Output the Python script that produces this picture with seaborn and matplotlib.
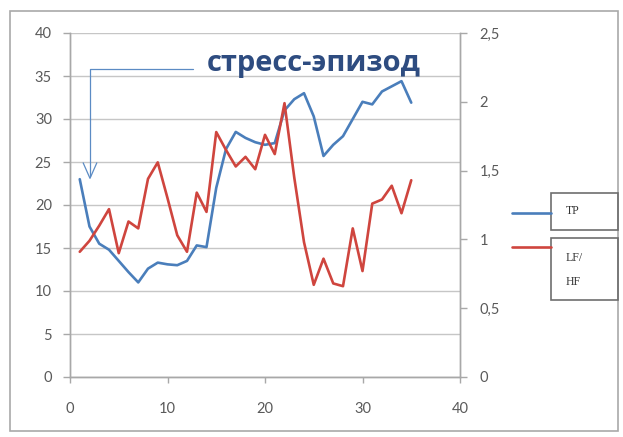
import matplotlib
matplotlib.use("Agg")
import matplotlib.pyplot as plt
from matplotlib.lines import Line2D
from matplotlib.patches import Rectangle
import seaborn as sns
import pandas as pd

# Session index (minutes) and the two measured series
t = list(range(1, 36))
tp = [23.0, 17.5, 15.5, 14.8, 13.5, 12.2, 11.0, 12.6, 13.3, 13.1, 13.0, 13.5,
      15.3, 15.1, 22.0, 26.5, 28.5, 27.8, 27.3, 27.0, 27.2, 31.0, 32.3, 33.0,
      30.3, 25.7, 27.0, 28.0, 30.0, 32.0, 31.7, 33.2, 33.8, 34.4, 31.9]
lf_hf = [0.91, 0.99, 1.10, 1.22, 0.90, 1.13, 1.08, 1.44, 1.56, 1.30, 1.03, 0.91,
         1.34, 1.20, 1.78, 1.65, 1.53, 1.60, 1.51, 1.76, 1.62, 1.99, 1.45, 0.98,
         0.67, 0.86, 0.68, 0.66, 1.08, 0.77, 1.26, 1.29, 1.39, 1.19, 1.43]

left_ticks = [0, 5, 10, 15, 20, 25, 30, 35, 40]
right_ticks = [0, 0.5, 1, 1.5, 2, 2.5]
right_labels = ["0", "0,5", "1", "1,5", "2", "2,5"]
x_ticks = [0, 10, 20, 30, 40]
series_names = ["TP", "LF/\nHF"]
note = "стресс-эпизод"

df = pd.DataFrame({"t": t, "tp": tp, "lf_hf": lf_hf})

sns.set_theme(style="white")
plt.rcParams["font.family"] = ["Lato", "DejaVu Sans"]

W, H = 623, 437
fig = plt.figure(figsize=(W / 100, H / 100), dpi=100)
fig.patch.set_facecolor("white")

def fx(px):
    return px / W

def fy(py):
    return 1 - py / H

ax = fig.add_axes([fx(70), fy(377), fx(460) - fx(70), fy(33) - fy(377)])
ax2 = ax.twinx()

blue = "#4A7EBB"
red = "#CF453E"
grid_c = "#C6C6C6"
spine_c = "#A8A8A8"
tick_c = "#5A5A5A"

sns.lineplot(data=df, x="t", y="tp", ax=ax, color=blue, linewidth=1.9, zorder=3)
sns.lineplot(data=df, x="t", y="lf_hf", ax=ax2, color=red, linewidth=1.9, zorder=3)

ax.set_xlim(0, 40)
ax.set_ylim(0, 40)
ax2.set_ylim(0, 2.5)
ax.set_xticks(x_ticks)
ax.set_yticks(left_ticks)
ax2.set_yticks(right_ticks)
ax2.set_yticklabels(right_labels)
ax.set_xlabel("")
ax.set_ylabel("")
ax2.set_ylabel("")

ax.yaxis.grid(True, color=grid_c, linewidth=1.0)
ax.set_axisbelow(True)

for a in (ax, ax2):
    a.spines["top"].set_visible(False)
    for s in ("left", "right", "bottom"):
        a.spines[s].set_color(spine_c)
        a.spines[s].set_linewidth(1.0)

ax.tick_params(axis="y", which="both", left=True, length=5, width=1, color=spine_c,
               labelcolor=tick_c, labelsize=10.5, pad=8)
ax.tick_params(axis="x", bottom=True, length=4, width=1, color=spine_c,
               labelcolor=tick_c, labelsize=10.5, pad=14)
ax2.tick_params(axis="y", right=True, length=5, width=1, color=spine_c,
                labelcolor=tick_c, labelsize=10.5, pad=9)

# Callout arrow pointing at the start of the episode
ax.plot([12.6, 2.05, 2.05], [35.8, 35.8, 23.4], color="#5B8BC4", linewidth=0.9,
        zorder=4, clip_on=False)
ax.plot([1.35, 2.05, 2.75], [24.9, 23.1, 24.9], color="#5B8BC4", linewidth=0.9,
        zorder=4, clip_on=False)
ax.text(25.0, 36.5, note, ha="center", va="center", fontsize=21,
        fontweight="bold", color="#2E4C80", family=["Open Sans", "DejaVu Sans"],
        zorder=5)

# Outer chart frame
fig.add_artist(Rectangle((fx(10), fy(431)), fx(618) - fx(10), fy(11) - fy(431),
                         transform=fig.transFigure, fill=False,
                         edgecolor="#A9A9A9", linewidth=1.2))

# Legend drawn as Excel-style boxed entries
box_c = "#6E6E6E"
fig.add_artist(Line2D([fx(512), fx(551)], [fy(213), fy(213)], color=blue,
                      linewidth=1.9, transform=fig.transFigure))
fig.add_artist(Line2D([fx(512), fx(551)], [fy(247), fy(247)], color=red,
                      linewidth=1.9, transform=fig.transFigure))
fig.add_artist(Rectangle((fx(551), fy(230)), fx(618) - fx(551), fy(193) - fy(230),
                         transform=fig.transFigure, fill=False,
                         edgecolor=box_c, linewidth=1.2))
fig.add_artist(Rectangle((fx(551), fy(300)), fx(618) - fx(551), fy(238) - fy(300),
                         transform=fig.transFigure, fill=False,
                         edgecolor=box_c, linewidth=1.2))
fig.text(fx(566), fy(211), series_names[0], ha="left", va="center",
         fontsize=8.5, family="Liberation Serif", color="#333333")
fig.text(fx(566), fy(270), series_names[1], ha="left", va="center",
         fontsize=8.5, family="Liberation Serif", color="#333333",
         linespacing=2.4)

fig.savefig("out.png", dpi=100)
